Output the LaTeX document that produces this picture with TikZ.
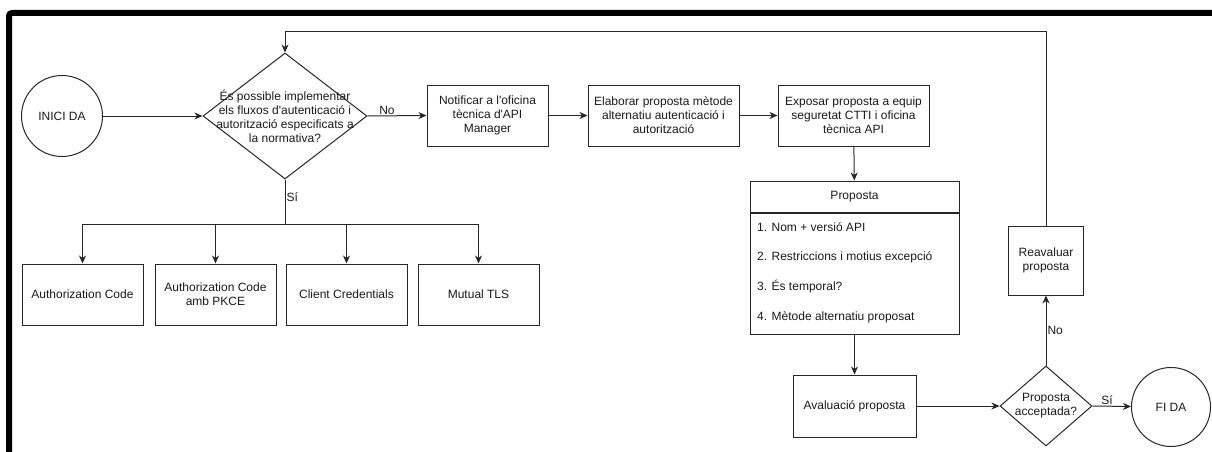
\documentclass[tikz,border=0pt]{standalone}
\usepackage{fontspec}
\setmainfont{Liberation Sans}[Ligatures=TeXOff]
\usetikzlibrary{shapes.geometric,arrows.meta,positioning}

\begin{document}
\begin{tikzpicture}[x=1pt,y=-1pt,
  every node/.style={font=\fontsize{12}{14}\selectfont, text=black!90},
  line/.style={draw=black!85, line width=1pt},
  arrow/.style={line, -{Stealth[length=8pt,width=7pt,inset=2.5pt]}},
  process/.style={draw=black!85, line width=1pt, rectangle, align=center,
                  inner sep=2pt, minimum height=61pt},
  terminal/.style={draw=black!85, line width=1pt, circle, inner sep=0pt},
  decision/.style={draw=black!85, line width=1pt, diamond, inner sep=0pt},
  tag/.style={inner sep=1pt},
  item/.style={anchor=west, inner sep=0pt}
]
\useasboundingbox (0,0) rectangle (1212,452);

% frame
\draw[line width=6pt, rounded corners=3pt] (9,460) -- (9,13) -- (1220,13);

% start and first decision
\node[terminal, minimum size=81pt] (start) at (62,116) {INICI DA};
\node[decision, minimum width=164pt, minimum height=126pt,
      label={[align=center, inner sep=0pt]center:És possible implementar\\els fluxos d'autenticació i\\autorització especificats a\\la normativa?}]
      (q1) at (285,116) {};

% upper process chain
\node[process, minimum width=121pt] (notify) at (487.5,115.5) {Notificar a l'oficina\\tècnica d'API\\Manager};
\node[process, minimum width=151pt] (draft) at (663.5,115.5) {Elaborar proposta mètode\\alternatiu autenticació i\\autorització};
\node[process, minimum width=151pt] (expose) at (853.5,115.5) {Exposar proposta a equip\\seguretat CTTI i oficina\\tècnica API};

% proposal card
\node[process, minimum width=209pt, minimum height=31pt] (prophead) at (854.5,196.5) {Proposta};
\node[draw=black!85, line width=1pt, rectangle, minimum width=209pt, minimum height=121pt,
      inner sep=0pt, anchor=north] (propbody) at (prophead.south) {};
\node[item] (it1) at (757,227) {1. Nom + versió API};
\node[item] (it2) at (757,257) {2. Restriccions i motius excepció};
\node[item] (it3) at (757,287) {3. És temporal?};
\node[item] (it4) at (757,317) {4. Mètode alternatiu proposat};

% evaluation
\node[process, minimum width=123pt, minimum height=62pt] (eval) at (854.5,406) {Avaluació proposta};
\node[decision, minimum width=92pt, minimum height=80pt,
      label={[align=center, inner sep=0pt]center:Proposta\\acceptada?}]
      (q2) at (1046,406) {};
\node[process, minimum width=75pt, minimum height=69pt] (reeval) at (1046,260.5) {Reavaluar\\proposta};
\node[terminal, minimum size=79pt] (finish) at (1171,407) {FI DA};

% accepted flows
\node[process, minimum width=121pt] (acode) at (82.5,294.5) {Authorization Code};
\node[process, minimum width=121pt] (pkce) at (215.5,294.5) {Authorization Code\\amb PKCE};
\node[process, minimum width=121pt] (ccred) at (346.5,294.5) {Client Credentials};
\node[process, minimum width=121pt] (mtls) at (478.5,294.5) {Mutual TLS};

% connectors
\draw[arrow] (start) -- (q1.west);
\draw[arrow] (q1.east) -- node[tag, above, pos=0.33] (lno1) {No} (notify.west);
\draw[arrow] (notify) -- (draft);
\draw[arrow] (draft) -- (expose);
\draw[arrow] (expose) -- (prophead);
\draw[arrow] (propbody) -- (eval);
\draw[arrow] (eval) -- (q2.west);
\draw[arrow] (q2.east) -- node[tag, above, pos=0.38] (lsi2) {Sí} (finish);
\draw[arrow] (q2.north) -- node[tag, right, pos=0.5] (lno2) {No} (reeval);

\coordinate (looptop) at (1046,32);
\draw[arrow] (reeval.north) -- (looptop) -| (q1.north);

\coordinate (split) at (285,224);
\draw[line] (q1.south) -- node[tag, right, pos=0.4] (lsi1) {Sí} (split);
\draw[arrow] (split) -| (acode.north);
\draw[arrow] (split) -| (pkce.north);
\draw[arrow] (split) -| (ccred.north);
\draw[arrow] (split) -| (mtls.north);
\end{tikzpicture}
\end{document}
